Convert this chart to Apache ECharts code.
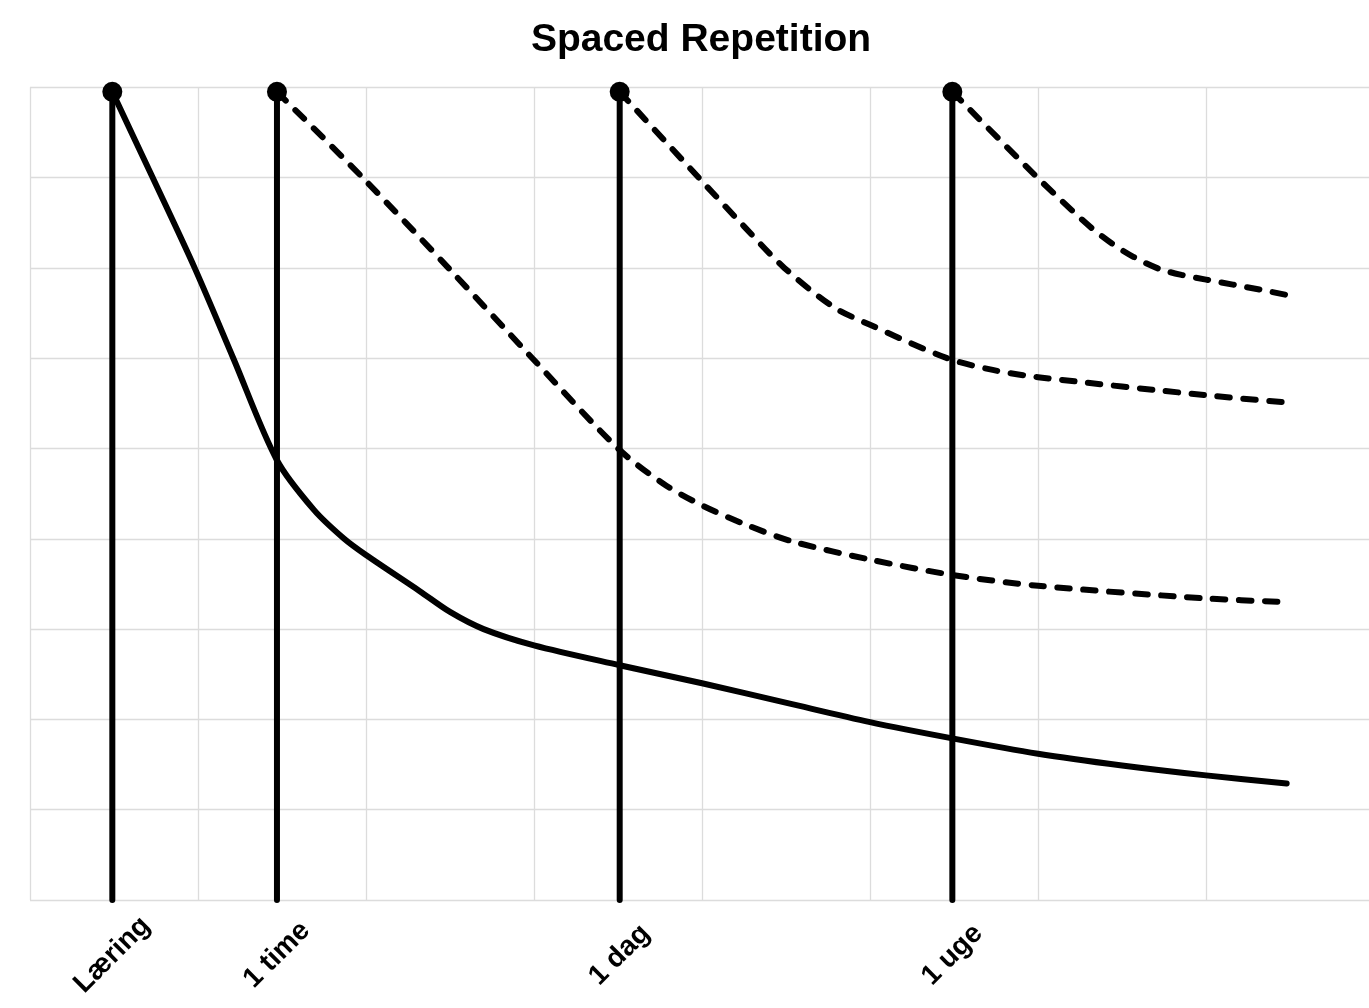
<!DOCTYPE html>
<html>
<head>
<meta charset="utf-8">
<script src="https://cdn.jsdelivr.net/npm/echarts@6/dist/echarts.min.js"></script>
<style>
html,body{margin:0;padding:0;background:#fff;}
#chart{width:1369px;height:1008px;}
</style>
</head>
<body>
<div id="chart"></div>
<script>
// ---- data ----
var reviewX = [0.49, 1.47, 3.51, 5.49];
var reviewNames = ['Læring', '1 time', '1 dag', '1 uge'];
var peakY = 8.95;

var forgetX = [0.49, 0.73, 0.98, 1.21, 1.47, 1.69, 1.87, 2.0, 2.32, 2.5, 2.7, 3.0, 3.51, 4.0, 4.51, 5.0, 5.49, 6.0, 6.5, 7.0, 7.48];
var forgetY = [8.95, 8.0, 7.0, 6.0, 4.87, 4.32, 4.0, 3.82, 3.42, 3.19, 3.0, 2.82, 2.60, 2.40, 2.18, 1.97, 1.79, 1.62, 1.49, 1.38, 1.29];

var review1X = [1.47, 1.98, 2.49, 2.99, 3.5, 3.77, 4.0, 4.27, 4.54, 5.0, 5.49, 6.0, 7.0, 7.48];
var review1Y = [8.95, 8.0, 7.0, 6.0, 5.0, 4.61, 4.37, 4.15, 3.97, 3.77, 3.60, 3.48, 3.34, 3.30];

var review2X = [3.51, 3.98, 4.25, 4.49, 4.78, 5.0, 5.46, 5.73, 6.0, 7.0, 7.48];
var review2Y = [8.95, 8.0, 7.46, 7.0, 6.57, 6.37, 6.0, 5.87, 5.79, 5.59, 5.51];

var review3X = [5.49, 5.98, 6.20, 6.32, 6.44, 6.57, 6.72, 6.86, 7.0, 7.32, 7.48];
var review3Y = [8.95, 8.03, 7.64, 7.44, 7.27, 7.12, 6.99, 6.92, 6.87, 6.76, 6.70];

// ---- build ----
function pairs(xs, ys) { return xs.map(function (x, i) { return [x, ys[i]]; }); }

var BLACK = '#000000';
var LW = 6;
var series = [];

reviewX.forEach(function (x) {
  series.push({
    type: 'line',
    data: [
      { value: [x, 0], symbol: 'none' },
      { value: [x, peakY], symbol: 'circle' }
    ],
    symbolSize: 20,
    showSymbol: true,
    itemStyle: { color: BLACK },
    lineStyle: { color: BLACK, width: LW, cap: 'round' },
    z: 2
  });
});

series.push({
  type: 'line',
  data: pairs(forgetX, forgetY),
  smooth: 0.3,
  showSymbol: false,
  lineStyle: { color: BLACK, width: LW, cap: 'round', join: 'round' },
  z: 3
});

[[review1X, review1Y], [review2X, review2Y], [review3X, review3Y]].forEach(function (r) {
  series.push({
    type: 'line',
    data: pairs(r[0], r[1]),
    smooth: 0.3,
    showSymbol: false,
    lineStyle: { color: BLACK, width: LW, type: [12.5, 13.5], cap: 'round', join: 'round' },
    z: 3
  });
});

var chart = echarts.init(document.getElementById('chart'), null, { renderer: 'canvas' });
chart.setOption({
  animation: false,
  backgroundColor: '#ffffff',
  title: {
    text: 'Spaced Repetition',
    left: 701,
    top: 21,
    padding: 0,
    textAlign: 'center',
    textStyle: { fontFamily: 'Liberation Sans, Arial, sans-serif', fontWeight: 'bold', fontSize: 39, color: '#000' }
  },
  grid: { left: 30, top: 87.3, width: 1339, height: 812.7, containLabel: false },
  xAxis: {
    type: 'value',
    min: 0, max: 7.97, interval: 1,
    axisLine: { show: false },
    axisTick: { show: false },
    splitLine: { show: true, showMaxLine: false, lineStyle: { color: '#dcdcdc', width: 1.3 } },
    axisLabel: {
      show: true,
      customValues: reviewX,
      formatter: function (v) {
        var i = reviewX.indexOf(v);
        return i >= 0 ? reviewNames[i] : '';
      },
      rotate: 45,
      align: 'center',
      verticalAlign: 'middle',
      margin: 55,
      fontFamily: 'Liberation Sans, Arial, sans-serif',
      fontWeight: 'bold',
      fontSize: 28,
      color: '#000'
    }
  },
  yAxis: {
    type: 'value',
    min: 0, max: 9, interval: 1,
    axisLine: { show: false },
    axisTick: { show: false },
    axisLabel: { show: false },
    splitLine: { show: true, lineStyle: { color: '#dcdcdc', width: 1.3 } }
  },
  series: series
});
</script>
</body>
</html>
